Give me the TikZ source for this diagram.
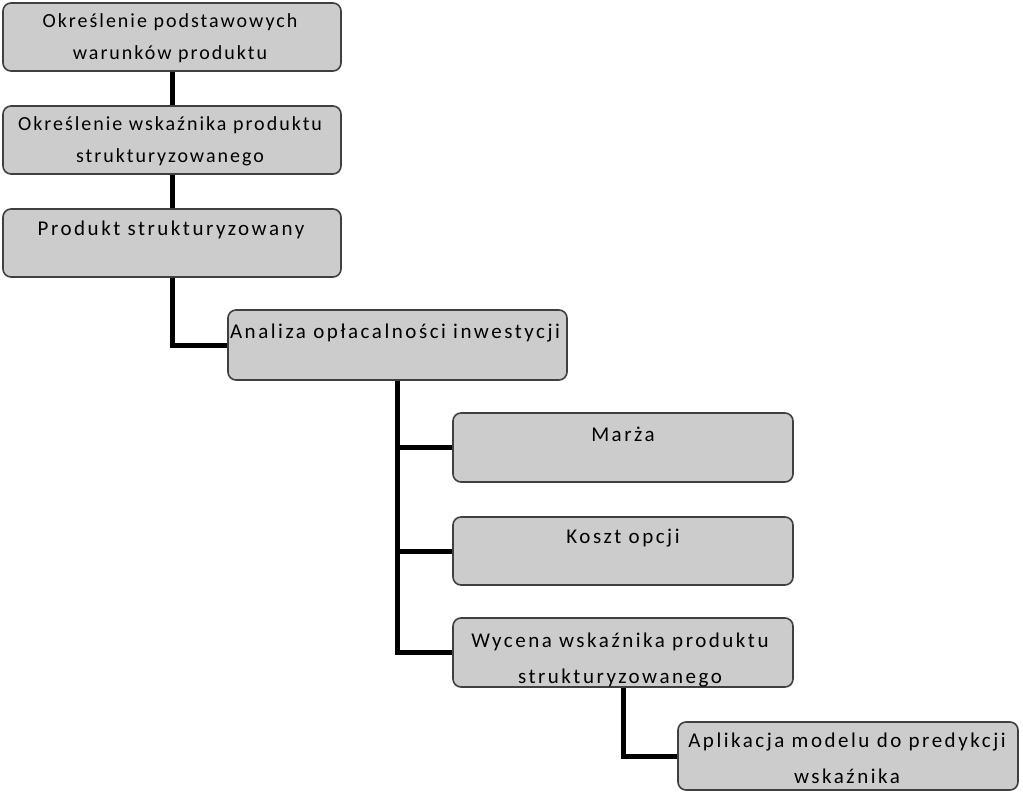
\documentclass[tikz,border=0pt]{standalone}
\usepackage{fontspec}
\setmainfont{Carlito}
\usetikzlibrary{backgrounds}
\tikzset{
  box/.style={draw=black!75, line width=1.6pt, fill=black!20, rounded corners=8pt, minimum width=338pt, minimum height=68pt, inner sep=0pt},
  txt/.style={anchor=base, align=center, inner sep=0pt, font=\fontsize{21}{36}\selectfont\addfontfeatures{LetterSpace=12}},
  smalltxt/.style={anchor=base, align=center, inner sep=0pt, font=\fontsize{20}{32.5}\selectfont\addfontfeatures{LetterSpace=10}},
  conn/.style={line width=5pt, black}
}
\begin{document}
\begin{tikzpicture}[x=1pt,y=-1pt]
\useasboundingbox (0,0) rectangle (1023,797);
\node[box] (b1) at (172,37) {};
\node[box] (b2) at (172,140) {};
\node[box] (b3) at (172,243) {};
\node[box, minimum width=339pt, minimum height=70pt] (b4) at (397.5,345) {};
\node[box, minimum width=340pt, minimum height=69pt] (b5) at (623,447.5) {};
\node[box, minimum width=340pt] (b6) at (623,551) {};
\node[box, minimum width=340pt, minimum height=69pt] (b7) at (623,652.5) {};
\node[box, minimum width=340pt] (b8) at (848,756) {};
\node[smalltxt] (t1) at (170,60) {Określenie podstawowych\\warunków produktu};
\node[smalltxt] (t2) at (170,163) {Określenie wskaźnika produktu\\strukturyzowanego};
\node[txt] (t3) at (171,235) {Produkt strukturyzowany};
\node[txt] (t4) at (395,338) {Analiza opłacalności inwestycji};
\node[txt] (t5) at (623,441) {Marża};
\node[txt] (t6) at (623,543) {Koszt opcji};
\node[txt] (t7) at (620,683) {Wycena wskaźnika produktu\\strukturyzowanego};
\node[txt] (t8) at (847,783) {Aplikacja modelu do predykcji\\wskaźnika};
\begin{scope}[on background layer]
\draw[conn] (b1.south) -- (b2.north);
\draw[conn] (b2.south) -- (b3.north);
\draw[conn] (b3.south) |- (b4.west);
\draw[conn] (b4.south) |- (b5.west);
\draw[conn] (b4.south) |- (b6.west);
\draw[conn] (b4.south) |- (b7.west);
\draw[conn] (b7.south) |- (b8.west);
\end{scope}
\end{tikzpicture}
\end{document}
